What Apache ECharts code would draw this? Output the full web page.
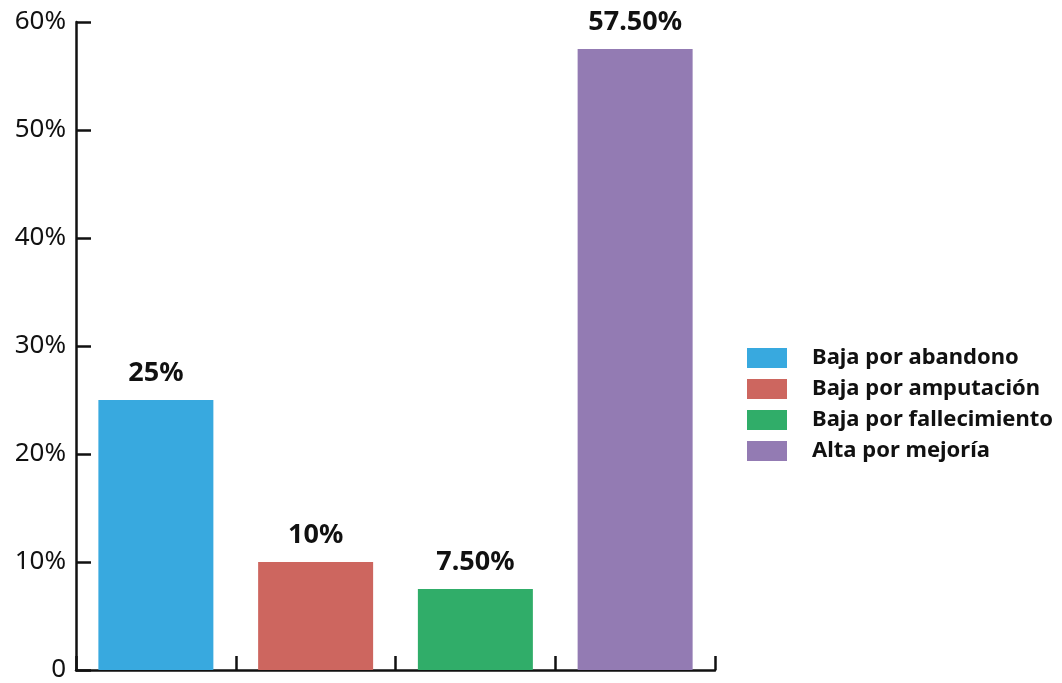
<!DOCTYPE html>
<html>
<head>
<meta charset="utf-8">
<script src="https://cdn.jsdelivr.net/npm/echarts@6/dist/echarts.min.js"></script>
<style>html,body{margin:0;padding:0;background:#fff}#c{width:1062px;height:683px}</style>
</head>
<body>
<div id="c"></div>
<script>
const categories = ['Baja por abandono', 'Baja por amputación', 'Baja por fallecimiento', 'Alta por mejoría'];
const values = [25, 10, 7.5, 57.5];
const valueLabels = ['25%', '10%', '7.50%', '57.50%'];
const colors = ['#38a9df', '#cd665f', '#30ad69', '#937bb3'];
const yTicks = [0, 10, 20, 30, 40, 50, 60];

const FONT = '"Noto Sans", "Open Sans", sans-serif';
const chart = echarts.init(document.getElementById('c'));
const series = categories.map((name, i) => ({
  name: name,
  type: 'bar',
  stack: 'all',
  barWidth: 115,
  itemStyle: { color: colors[i] },
  data: categories.map((_, j) => j === i ? values[i] : '-'),
  label: {
    show: true,
    position: 'top',
    distance: 13,
    formatter: () => valueLabels[i],
    fontFamily: FONT,
    fontWeight: 'bold',
    fontSize: 27,
    color: '#111'
  }
}));
chart.setOption({
  animation: false,
  grid: { left: 76, top: 22, right: 347, bottom: 13, containLabel: false },
  legend: {
    orient: 'vertical',
    left: 747,
    top: 347,
    padding: 0,
    itemWidth: 40,
    itemHeight: 20,
    itemGap: 9,
    icon: 'rect',
    data: categories,
    textStyle: { fontFamily: FONT, fontWeight: 'bold', fontSize: 22, color: '#111', padding: [0, 0, 0, 20] }
  },
  xAxis: {
    type: 'category',
    data: categories,
    axisLine: { lineStyle: { color: '#111', width: 2.5 } },
    axisTick: { show: true, inside: true, length: 14, lineStyle: { color: '#111', width: 2.5 } },
    axisLabel: { show: false }
  },
  yAxis: {
    type: 'value',
    min: yTicks[0],
    max: yTicks[yTicks.length - 1],
    interval: 10,
    splitLine: { show: false },
    axisLine: { show: true, lineStyle: { color: '#111', width: 2.5 } },
    axisTick: { show: true, inside: true, length: 15, lineStyle: { color: '#111', width: 2.5 } },
    axisLabel: {
      margin: 10,
      fontFamily: FONT,
      fontSize: 26,
      color: '#111',
      formatter: v => v === 0 ? '0' : v + '%'
    }
  },
  series: series
});
</script>
</body>
</html>
